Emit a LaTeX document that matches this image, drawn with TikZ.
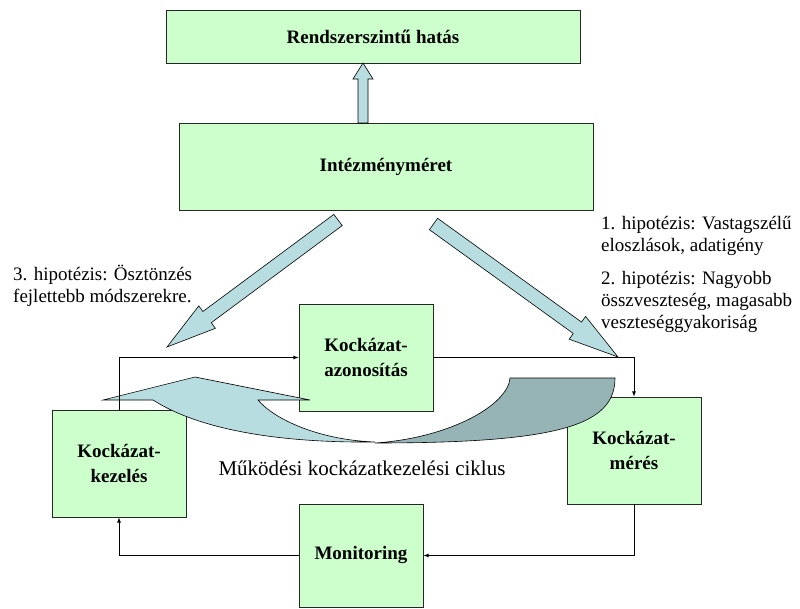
\documentclass[tikz,border=0pt]{standalone}
\usepackage{fontspec}
\setmainfont{Liberation Serif}
\usetikzlibrary{arrows}
\definecolor{boxgreen}{HTML}{CCFFCC}
\definecolor{arrowblue}{HTML}{B7DDE0}
\definecolor{arrowdark}{HTML}{96B3B6}
\tikzset{
  greenbox/.style={draw=black!85, fill=boxgreen, line width=0.8pt, inner sep=0pt,
    align=center, font=\fontsize{19}{25}\selectfont\bfseries},
  hyplabel/.style={align=left, inner sep=0pt, font=\fontsize{19}{22}\selectfont},
  blockarrow/.style={draw=black, fill=arrowblue, line width=0.6pt, line join=miter},
  cycline/.style={draw=black, line width=0.8pt, ->, >=latex}}

\begin{document}
\begin{tikzpicture}[x=1pt, y=-1pt]
              \useasboundingbox (0,0) rectangle (800,609);
              % boxes
              \node[greenbox, minimum width=414pt, minimum height=53pt] (sys) at (373,36.5) {Rendszerszintű hatás};
              \node[greenbox, minimum width=414pt, minimum height=87pt] (size) at (386,166.5) {Intézményméret};
              \node[greenbox, minimum width=134pt, minimum height=107pt] (ident) at (366,357.5) {Kockázat-\\azonosítás};
              \node[greenbox, minimum width=134pt, minimum height=107pt] (treat) at (119,463.5) {Kockázat-\\kezelés};
              \node[greenbox, minimum width=134pt, minimum height=107pt] (meas) at (634,450.5) {Kockázat-\\mérés};
              \node[greenbox, minimum width=124pt, minimum height=103pt] (mon) at (361,555.5) {Monitoring};
              % block arrows
              \filldraw[blockarrow] (358,123) -- (358,79) -- (353,79) -- (363,63) -- (373,79) -- (368,79) -- (368,123) -- cycle;
              \filldraw[blockarrow] (342.2,225.6) -- (211.3,322.7) -- (215.4,328.3) -- (167,347)
                -- (198.8,305.9) -- (202.9,311.5) -- (333.8,214.4) -- cycle;
              \filldraw[blockarrow] (429.4,229.7) -- (573.3,333.5) -- (569.2,339.2) -- (618,357)
                -- (585.6,316.4) -- (581.5,322.1) -- (437.6,218.3) -- cycle;
              % curved arrow of the cycle
              \filldraw[blockarrow] (103,400) -- (195,377) -- (310,400) -- (258,400)
                .. controls (275,420) and (320,440) .. (375,442)
                .. controls (280,443) and (200,430) .. (153,400) -- cycle;
              \filldraw[blockarrow, fill=arrowdark] (510,378) -- (615,378)
                .. controls (615,425) and (560,443) .. (375,443)
                .. controls (450,438) and (508,405) .. (510,378) -- cycle;
              % cycle connectors
              \draw[cycline] (treat.north) |- (ident.west);
              \draw[cycline] (ident.east) -| (meas.north);
              \draw[cycline] (meas.south) |- (mon.east);
              \draw[cycline] (mon.west) -| (treat.south);
              % labels
              \node[font=\fontsize{21}{25}\selectfont] (cycle) at (362,468) {Működési kockázatkezelési ciklus};
              \node[hyplabel, anchor=west] (hyp3) at (13,285.5) {3. hipotézis: Ösztönzés\\fejlettebb módszerekre.};
              \node[hyplabel, anchor=west] (hyp1) at (601,236) {1. hipotézis: Vastagszélű\\eloszlások, adatigény};
              \node[hyplabel, anchor=west] (hyp2) at (601,301.5) {2. hipotézis: Nagyobb\\összveszteség, magasabb\\veszteséggyakoriság};
          \end{tikzpicture}
\end{document}
